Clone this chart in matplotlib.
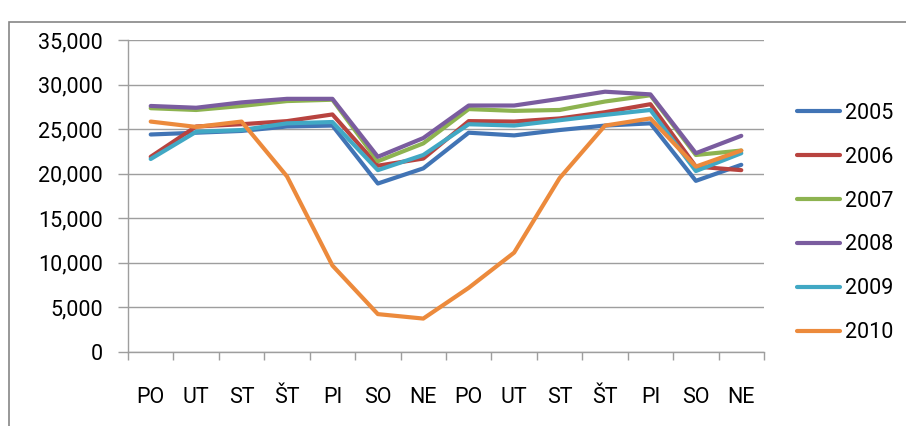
import matplotlib
matplotlib.use("Agg")
import matplotlib.pyplot as plt
from matplotlib.patches import Rectangle
from matplotlib.ticker import FuncFormatter, MultipleLocator

days = ["PO", "UT", "ST", "ŠT", "PI", "SO", "NE", "PO", "UT", "ST", "ŠT", "PI", "SO", "NE"]
years = ["2005", "2006", "2007", "2008", "2009", "2010"]
v2005 = [24400, 24600, 24800, 25300, 25400, 18900, 20600, 24600, 24300, 24900, 25400, 25650, 19200, 21000]
v2006 = [21900, 25300, 25550, 25900, 26650, 20900, 21700, 25900, 25850, 26200, 26900, 27800, 20800, 20400]
v2007 = [27350, 27150, 27600, 28150, 28300, 21400, 23400, 27250, 27050, 27150, 28100, 28800, 22100, 22600]
v2008 = [27600, 27400, 28000, 28400, 28400, 21900, 24000, 27650, 27650, 28400, 29200, 28900, 22300, 24250]
v2009 = [21650, 24700, 24900, 25650, 25800, 20400, 22100, 25550, 25400, 26000, 26600, 27150, 20300, 22300]
v2010 = [25850, 25250, 25850, 19700, 9700, 4250, 3750, 7200, 11150, 19500, 25400, 26200, 20800, 22600]
series = [v2005, v2006, v2007, v2008, v2009, v2010]
colors = ["#4174B5", "#B8433F", "#8DB350", "#7A5C9F", "#41A8C4", "#EC8A3C"]

plt.rcParams["font.family"] = ["Roboto", "DejaVu Sans"]

W, H = 906, 426
fig = plt.figure(figsize=(W / 100, H / 100), dpi=100)
ax = fig.add_axes([128 / W, 74 / H, (764 - 128) / W, (352 - 40) / H])

# outer chart border (clipped at right/bottom like the reference)
fig.patches.append(Rectangle((9 / W, -0.1), 1.2, (426 - 22) / H + 0.1, transform=fig.transFigure,
                             fill=False, edgecolor="#868686", linewidth=1.2))

x = list(range(len(days)))
for vals, c, lab in zip(series, colors, years):
    ax.plot(x, vals, color=c, lw=3.0, label=lab, solid_joinstyle="round", solid_capstyle="round")

ax.set_xlim(-0.5, len(days) - 0.5)
ax.set_ylim(0, 35000)
ax.yaxis.set_major_locator(MultipleLocator(5000))
ax.yaxis.set_major_formatter(FuncFormatter(lambda v, p: f"{int(v):,}"))
ax.grid(axis="y", color="#9E9E9E", lw=1.0)
ax.set_axisbelow(True)

ax.set_xticks(x)
ax.set_xticklabels(days)
ax.set_xticks([i - 0.5 for i in range(len(days) + 1)], minor=True)
ax.tick_params(axis="x", which="major", length=0, pad=25, labelsize=15.5, colors="black")
ax.tick_params(axis="x", which="minor", length=6, width=1, color="#9E9E9E")
ax.tick_params(axis="y", length=7, width=1, color="#9E9E9E", pad=11, labelsize=15.5, labelcolor="black")

for s in ["top", "right"]:
    ax.spines[s].set_visible(False)
for s in ["left", "bottom"]:
    ax.spines[s].set_color("#9E9E9E")
    ax.spines[s].set_linewidth(1.0)

leg = ax.legend(loc="upper left", bbox_to_anchor=(797 / W, (426 - 103) / H), bbox_transform=fig.transFigure,
                frameon=False, fontsize=15.5, handlelength=2.0, handletextpad=0.25,
                labelspacing=1.06, borderaxespad=0, borderpad=0)
for line in leg.get_lines():
    line.set_linewidth(3.0)

fig.savefig("out.png", dpi=100)
